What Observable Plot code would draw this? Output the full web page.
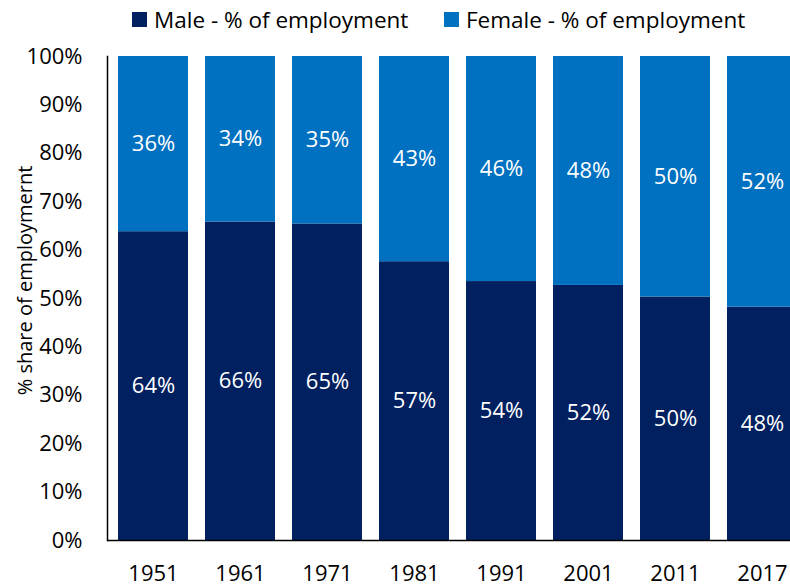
<!DOCTYPE html>
<html>
<head>
<meta charset="utf-8">
<script src="https://cdn.jsdelivr.net/npm/d3@7"></script>
<script src="https://cdn.jsdelivr.net/npm/@observablehq/plot@0.6"></script>
<style>
  html, body { margin: 0; padding: 0; background: #fff; width: 790px; height: 586px; overflow: hidden; }
  body { font-family: "Open Sans", sans-serif; }
  #legend { position: relative; height: 40px; }
  .item { position: absolute; top: 4px; display: flex; align-items: center; font-size: 22.5px; color: #000; white-space: nowrap; }
  .sw { width: 15px; height: 15px; margin-right: 7px; }
</style>
</head>
<body>
<div id="legend"></div>
<div id="chart"></div>
<script>
const years = ["1951", "1961", "1971", "1981", "1991", "2001", "2011", "2017"];
const maleShare = [63.8, 65.8, 65.4, 57.6, 53.5, 52.7, 50.3, 48.2];
const femaleShare = [36.2, 34.2, 34.6, 42.4, 46.5, 47.3, 49.7, 51.8];
const maleLabels = ["64%", "66%", "65%", "57%", "54%", "52%", "50%", "48%"];
const femaleLabels = ["36%", "34%", "35%", "43%", "46%", "48%", "50%", "52%"];
const seriesNames = ["Male - % of employment", "Female - % of employment"];
const seriesColors = ["#002060", "#0070C0"];
const yTicks = [0, 10, 20, 30, 40, 50, 60, 70, 80, 90, 100];
const yLabel = "% share of employmernt";

const data = [];
years.forEach((yr, i) => {
  data.push({year: yr, series: seriesNames[0], value: maleShare[i], label: maleLabels[i]});
  data.push({year: yr, series: seriesNames[1], value: femaleShare[i], label: femaleLabels[i]});
});

// legend
const legend = document.getElementById("legend");
const legendX = [132, 444];
seriesNames.forEach((s, i) => {
  const d = document.createElement("div");
  d.className = "item";
  d.style.left = legendX[i] + "px";
  d.innerHTML = `<span class="sw" style="background:${seriesColors[i]}"></span><span>${s}</span>`;
  legend.appendChild(d);
});

const chart = Plot.plot({
  width: 790,
  height: 546,
  marginTop: 16,
  marginBottom: 46,
  marginLeft: 107,
  marginRight: 0,
  style: {fontFamily: "'Open Sans', sans-serif", fontSize: "22px", color: "#000", background: "#fff", overflow: "hidden"},
  x: {domain: years, range: [107, 808], paddingInner: 0.19, paddingOuter: 0.1, label: null, tickSize: 0, tickPadding: 25},
  y: {domain: [0, 100], ticks: yTicks, tickFormat: d => d + "%", label: null, tickSize: 0, tickPadding: 25},
  color: {domain: seriesNames, range: seriesColors},
  marks: [
    Plot.barY(data, Plot.stackY({x: "year", y: "value", fill: "series", order: seriesNames})),
    Plot.text(data, Plot.stackY({x: "year", y: "value", z: "series", order: seriesNames, text: "label", fill: "white", fontSize: 22})),
    Plot.ruleY([0], {stroke: "#000", strokeWidth: 1.5}),
    Plot.frame({anchor: "left", stroke: "#000", strokeWidth: 1.5}),
    Plot.text([yLabel], {frameAnchor: "left", textAnchor: "middle", rotate: -90, dx: -82, dy: -18, fontSize: 20, fill: "#000"})
  ]
});
document.getElementById("chart").appendChild(chart);
</script>
</body>
</html>
